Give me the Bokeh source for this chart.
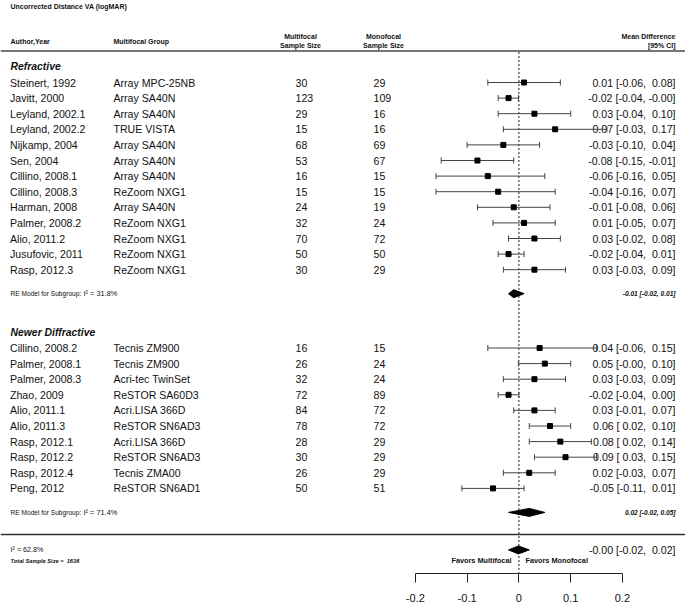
from bokeh.plotting import figure
from bokeh.models import Range1d, FixedTicker
from bokeh.core.properties import value
from bokeh.embed import file_html
from bokeh.resources import INLINE

# ---------------- data ----------------
chart_title = "Uncorrected Distance VA (logMAR)"

ref_label = "Refractive"
ref_authors = ["Steinert, 1992", "Javitt, 2000", "Leyland, 2002.1", "Leyland, 2002.2",
               "Nijkamp, 2004", "Sen, 2004", "Cillino, 2008.1", "Cillino, 2008.3",
               "Harman, 2008", "Palmer, 2008.2", "Alio, 2011.2", "Jusufovic, 2011",
               "Rasp, 2012.3"]
ref_groups = ["Array MPC-25NB", "Array SA40N", "Array SA40N", "TRUE VISTA",
              "Array SA40N", "Array SA40N", "Array SA40N", "ReZoom NXG1",
              "Array SA40N", "ReZoom NXG1", "ReZoom NXG1", "ReZoom NXG1",
              "ReZoom NXG1"]
ref_n_multi = [30, 123, 29, 15, 68, 53, 16, 15, 24, 32, 70, 50, 30]
ref_n_mono = [29, 109, 16, 16, 69, 67, 15, 15, 19, 24, 72, 50, 29]
ref_est = [0.01, -0.02, 0.03, 0.07, -0.03, -0.08, -0.06, -0.04, -0.01, 0.01, 0.03, -0.02, 0.03]
ref_lo = [-0.06, -0.04, -0.04, -0.03, -0.10, -0.15, -0.16, -0.16, -0.08, -0.05, -0.02, -0.04, -0.03]
ref_hi = [0.08, -0.001, 0.10, 0.17, 0.04, -0.01, 0.05, 0.07, 0.06, 0.07, 0.08, 0.01, 0.09]
ref_re = [-0.01, -0.02, 0.01]
ref_i2 = "31.8%"

new_label = "Newer Diffractive"
new_authors = ["Cillino, 2008.2", "Palmer, 2008.1", "Palmer, 2008.3", "Zhao, 2009",
               "Alio, 2011.1", "Alio, 2011.3", "Rasp, 2012.1", "Rasp, 2012.2",
               "Rasp, 2012.4", "Peng, 2012"]
new_groups = ["Tecnis ZM900", "Tecnis ZM900", "Acri-tec TwinSet", "ReSTOR SA60D3",
              "Acri.LISA 366D", "ReSTOR SN6AD3", "Acri.LISA 366D", "ReSTOR SN6AD3",
              "Tecnis ZMA00", "ReSTOR SN6AD1"]
new_n_multi = [16, 26, 32, 72, 84, 78, 28, 30, 26, 50]
new_n_mono = [15, 24, 24, 89, 72, 72, 29, 29, 29, 51]
new_est = [0.04, 0.05, 0.03, -0.02, 0.03, 0.06, 0.08, 0.09, 0.02, -0.05]
new_lo = [-0.06, -0.001, -0.03, -0.04, -0.01, 0.02, 0.02, 0.03, -0.03, -0.11]
new_hi = [0.15, 0.10, 0.09, 0.00, 0.07, 0.10, 0.14, 0.15, 0.07, 0.01]
new_re = [0.02, -0.02, 0.05]
new_i2 = "71.4%"

overall = [-0.001, -0.02, 0.02]
overall_i2 = "62.8%"
total_n = 1636

tick_values = [-0.2, -0.1, 0.0, 0.1, 0.2]
tick_labels = ["-0.2", "-0.1", "0", "0.1", "0.2"]

# ---------------- layout ----------------
W, H = 685, 606
PX0, PXU = 518.4, 518.0          # x pixel of zero, px per unit
FRAME_BOTTOM = 573
BOTTOM = H - FRAME_BOTTOM
NB = "\u00a0"


def X(px):
    return (px - PX0) / PXU


FONT = value("Liberation Sans")
TXT = "#111111"
PITCH = 15.6

ref_y = [82 + i * PITCH for i in range(len(ref_authors))]
ref_head_y = ref_y[0] - PITCH
ref_re_y = ref_y[-1] + 24
new_head_y = ref_re_y + 38.7
new_y = [new_head_y + (i + 1) * PITCH for i in range(len(new_authors))]
new_re_y = new_y[-1] + 24
sep_y = new_re_y + 22
overall_y = sep_y + 15.5
favors_y = overall_y + 11

p = figure(width=W, height=H, output_backend="svg", toolbar_location=None,
           x_range=Range1d(X(0), X(W)), y_range=Range1d(FRAME_BOTTOM, 0),
           y_axis_location=None, min_border_left=0, min_border_right=0,
           min_border_top=0, min_border_bottom=BOTTOM)
p.outline_line_color = None
p.grid.visible = False
p.background_fill_color = "white"
p.border_fill_color = "white"

ax = p.xaxis[0]
ax.bounds = (tick_values[0], tick_values[-1])
ax.ticker = FixedTicker(ticks=tick_values)
ax.major_label_overrides = {v: l for v, l in zip(tick_values, tick_labels)}
ax.major_tick_in = 0
ax.major_tick_out = 9
ax.minor_tick_line_color = None
ax.axis_line_color = "#222222"
ax.major_tick_line_color = "#222222"
ax.major_label_standoff = 11
ax.major_label_text_font = "Liberation Sans"
ax.major_label_text_font_size = "11px"
ax.major_label_text_color = TXT


def fmt_ci(e, lo, hi):
    return f"{e:.2f} [{lo:5.2f}, {hi:5.2f}]".replace(" ", NB)


def txt(x, y, t, size, align="left", style="normal", color=TXT):
    p.text(x=x, y=y, text=t, text_font=FONT, text_font_size=value(size),
           text_align=align, text_baseline="middle", text_font_style=style,
           text_color=color)


# title & header
txt([X(10)], [6], [chart_title], "7px", style="bold")
txt([X(10)], [40.5], ["Author,Year"], "7px", style="bold")
txt([X(113)], [40.5], ["Multifocal Group"], "7px", style="bold")
txt([X(300), X(300)], [35.5, 45], ["Multifocal", "Sample Size"], "7px", align="center", style="bold")
txt([X(383), X(383)], [35.5, 45], ["Monofocal", "Sample Size"], "7px", align="center", style="bold")
txt([X(675), X(675)], [35.5, 45], ["Mean Difference", "[95% CI]"], "7px", align="right", style="bold")
p.segment(x0=[X(0)], y0=[50.5], x1=[X(W)], y1=[50.5], line_color="#777777", line_width=2)

# reference line at zero
p.segment(x0=[0], y0=[51.5], x1=[0], y1=[FRAME_BOTTOM], line_color="#222222",
          line_width=1, line_dash="2 2")


def study_block(label, label_y, ys, authors, groups, nm, nn, est, lo, hi, re, i2, re_y):
    txt([X(10)], [label_y], [label], "10.4px", style="bold italic")
    txt([X(9.5)] * len(ys), ys, authors, "10.6px")
    txt([X(113)] * len(ys), ys, groups, "10.6px")
    txt([X(295)] * len(ys), ys, [str(v) for v in nm], "10.6px")
    txt([X(373)] * len(ys), ys, [str(v) for v in nn], "10.6px")
    txt([X(675)] * len(ys), ys, [fmt_ci(e, a, b) for e, a, b in zip(est, lo, hi)],
        "10.6px", align="right")
    p.segment(x0=lo, y0=ys, x1=hi, y1=ys, line_color="#444444", line_width=1)
    p.segment(x0=lo, y0=[y - 3 for y in ys], x1=lo, y1=[y + 3 for y in ys],
              line_color="#444444", line_width=1)
    p.segment(x0=hi, y0=[y - 3 for y in ys], x1=hi, y1=[y + 3 for y in ys],
              line_color="#444444", line_width=1)
    p.scatter(x=est, y=ys, marker="square", size=5, fill_color="black",
              line_color="black")
    e, a, b = re
    p.patch(x=[a, e, b, e], y=[re_y, re_y - 4, re_y, re_y + 4], fill_color="black",
            line_color="black")
    txt([X(10)], [re_y], ["RE Model for Subgroup:"], "6.6px")
    txt([X(83)], [re_y], [f"I\u00b2 = {i2}"], "7.4px")
    txt([X(675)], [re_y], [f"{e:.2f} [{a:.2f}, {b:.2f}]"], "6.6px",
        align="right", style="bold italic")


study_block(ref_label, ref_head_y, ref_y, ref_authors, ref_groups, ref_n_multi, ref_n_mono,
            ref_est, ref_lo, ref_hi, ref_re, ref_i2, ref_re_y)
study_block(new_label, new_head_y, new_y, new_authors, new_groups, new_n_multi, new_n_mono,
            new_est, new_lo, new_hi, new_re, new_i2, new_re_y)

# separator
p.segment(x0=[X(0)], y0=[sep_y], x1=[X(W)], y1=[sep_y], line_color="#333333", line_width=1.5)

# overall
e, a, b = overall
p.patch(x=[a, e, b, e], y=[overall_y, overall_y - 4, overall_y, overall_y + 4],
        fill_color="black", line_color="black")
txt([X(675)], [overall_y], [fmt_ci(e, a, b)], "10.6px", align="right")
txt([X(10)], [overall_y], [f"I\u00b2 = {overall_i2}"], "7.2px")
txt([X(10)], [favors_y], [f"Total Sample Size ={NB}{NB}{total_n}"], "5.7px", style="bold italic")
txt([X(511)], [favors_y], ["Favors Multifocal"], "7.3px", align="right", style="bold")
txt([X(525)], [favors_y], ["Favors Monofocal"], "7.3px", align="left", style="bold")

open("out.html", "w").write(file_html(p, INLINE))
